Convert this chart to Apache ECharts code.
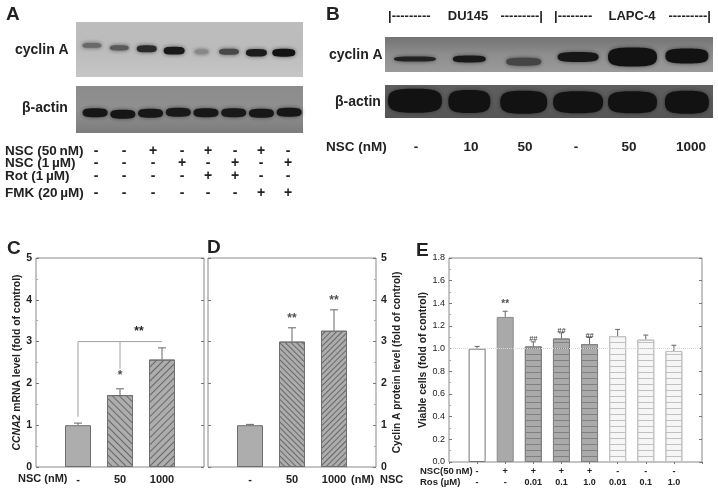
<!DOCTYPE html>
<html><head><meta charset="utf-8">
<style>html,body{margin:0;padding:0;background:#fff}#c{width:718px;height:492px;filter:blur(0.35px)}</style>
<script src="https://cdn.jsdelivr.net/npm/echarts@6/dist/echarts.min.js"></script>
</head><body><div id="c"></div>
<script>
// ---- Blot band readings (relative density by lane)
var aCyclin = [0.38, 0.48, 0.82, 0.95, 0.2, 0.6, 0.92, 1.0];
var aCyclinPos = [0.575, 0.53, 0.515, 0.478, 0.46, 0.46, 0.44, 0.44];
var aActin = [0.97, 0.98, 0.96, 0.95, 0.96, 0.95, 0.96, 0.97];
var aActinPos = [0.43, 0.40, 0.42, 0.44, 0.43, 0.43, 0.42, 0.44];
var bCyclin = [0.88, 0.95, 0.62, 0.97, 1.0, 1.0];
var bCyclinPos = [0.37, 0.37, 0.29, 0.43, 0.43, 0.46];
var bActin = [1.0, 1.0, 1.0, 1.0, 1.0, 1.0];
var bActinPos = [0.52, 0.50, 0.48, 0.48, 0.48, 0.48];
// ---- Treatment tables
var aRowLabels = ['NSC (50\u2009nM)', 'NSC (1\u2009\u00b5M)', 'Rot (1\u2009\u00b5M)', 'FMK (20\u2009\u00b5M)'];
var aRows = [
  ['-','-','+','-','+','-','+','-'],
  ['-','-','-','+','-','+','-','+'],
  ['-','-','-','-','+','+','-','-'],
  ['-','-','-','-','-','-','+','+']
];
var bLabels = ['-', '10', '50', '-', '50', '1000'];
// ---- Panel C
var cCats = ['', '-', '50', '1000', ''];
var cMean = [null, 1.0, 1.72, 2.57, null];
var cErr  = [null, 1.05, 1.87, 2.85, null];
var cStar = [null, null, 2.18, null, null];
// ---- Panel D
var dCats = ['', '-', '50', '1000', ''];
var dMean = [null, 1.0, 3.0, 3.26, null];
var dErr  = [null, 1.02, 3.33, 3.76, null];
var dStar = [null, null, 3.54, 3.97, null];
// ---- Panel E
var eNsc  = ['', '-', '+', '+', '+', '+', '-', '-', '-', ''];
var eRos  = ['', '-', '-', '0.01', '0.1', '1.0', '0.01', '0.1', '1.0', ''];
var eMean = [null, 1.0, 1.28, 1.02, 1.09, 1.04, 1.11, 1.08, 0.98, null];
var eErr  = [null, 1.02, 1.33, 1.06, 1.14, 1.10, 1.17, 1.12, 1.03, null];
var eMark = [null, null, '**', '##', '##', '##', null, null, null, null];
var eMarkAt = [null, null, 1.39, 1.09, 1.16, 1.11, null, null, null, null];

var FF = '"Liberation Sans", Arial, sans-serif';
var DARK = '#222';
var BLOB = 'path://M0,50 C0,8 12,0 50,0 C88,0 100,8 100,50 C100,92 88,100 50,100 C12,100 0,92 0,50Z';
var graphic = [];
function T(x, y, s, size, align, rot, weight) {
  graphic.push({type:'text', x:x, y:y, rotation:rot||0, silent:true,
    style:{text:s, fontFamily:FF, fontWeight:weight||'bold', fontSize:size, fill:DARK,
      textAlign:align||'left', textVerticalAlign:'middle'}});
}
// Panel letters
T(6,15,'A',19); T(326,15,'B',19); T(7,249,'C',19); T(207,248,'D',19); T(416,251,'E',19);
// A
T(15,50,'cyclin A',14); T(22,108,'\u03b2-actin',14);
var aRowY=[151,163,176,193], aColX=[96,124,153,182,208,235,261,288];
aRows.forEach(function(r,i){ T(5,aRowY[i],aRowLabels[i],13.5);
  r.forEach(function(s,j){ T(aColX[j],aRowY[i],s,14,'center'); }); });
// B
T(388,16,'|---------',13); T(468,16,'DU145',13,'center'); T(543,16,'---------|',13,'right');
T(554,16,'|--------',13); T(632,16,'LAPC-4',13,'center'); T(711,16,'---------|',13,'right');
T(329,55,'cyclin A',14); T(335,102,'\u03b2-actin',14);
T(326,147,'NSC (nM)',13.5);
var bColX=[416,471,525,576,629,691];
bLabels.forEach(function(s,j){ T(bColX[j],147,s,13.5,'center'); });
// C, D and E extras
T(18,479,'NSC (nM)',11); T(139,332,'**',12,'center');
T(351,480,'(nM)',11); T(380,480,'NSC',11);
T(420,471,'NSC(50\u2009nM)',9.5); T(420,482,'Ros (\u00b5M)',9.5);

function grad(a,b,c){ return {type:'linear',x:0,y:0,x2:0,y2:1,colorStops:[{offset:0,color:a},{offset:0.5,color:b},{offset:1,color:c}]}; }
var grids=[], xAxes=[], yAxes=[], series=[];
function blot(left,top,width,height,bg,lanes,pos,xmin,xmax,sizes){
  var idx=grids.length;
  grids.push({left:left,top:top,width:width,height:height,show:true,backgroundColor:bg,borderWidth:0,containLabel:false});
  xAxes.push({gridIndex:idx,type:'value',min:xmin,max:xmax,show:false});
  yAxes.push({gridIndex:idx,type:'value',min:0,max:1,show:false});
  series.push({type:'scatter',xAxisIndex:idx,yAxisIndex:idx,silent:true,animation:false,clip:true,symbol:BLOB,
    data:lanes.map(function(v,i){ return [i,pos[i],v,i]; }),
    symbolSize:function(d){ return sizes(d[3],d[2]); },
    itemStyle:{opacity:1,shadowBlur:4,
      color:function(p){ var g=Math.round(180-(180-18)*Math.pow(p.data[2],0.8)); return 'rgb('+g+','+g+','+g+')'; },
      shadowColor:'rgba(30,30,30,0.65)'}});
}
blot(76,22,227,55,grad('#bdbdbd','#bbbbbb','#c6c6c6'),aCyclin,aCyclinPos,-0.58,7.7,
  function(i,v){return [[19,19,20,21,14,20,21,23][i],3+5*v];});
blot(76,86,227,47,grad('#8c8c8c','#909090','#7c7c7c'),aActin,aActinPos,-0.69,7.5,
  function(i,v){return [25,9];});
blot(385,37,328,35,grad('#737373','#8e8e8e','#9a9a9a'),bCyclin,bCyclinPos,-0.55,5.48,
  function(i,v){return [[42,33,35,41,49,43][i],[5,7,8,10,19,15][i]];});
blot(385,85,328,33,grad('#5e5e5e','#5a5a5a','#555555'),bActin,bActinPos,-0.55,5.48,
  function(i,v){return [[54,42,47,50,49,44][i],[24,23,23,22,22,23][i]];});

function hatch(rot,gap){ return {symbol:'rect',symbolSize:1,dashArrayX:[4,0],dashArrayY:[1,gap],rotation:rot,color:'#666'}; }
var lineC='#8a8a8a', tickC='#777';
function panel(o){
  var idx=grids.length;
  grids.push({left:o.left,top:o.top,width:o.width,height:o.height,show:true,backgroundColor:'#fff',borderColor:lineC,borderWidth:1});
  xAxes.push({gridIndex:idx,type:'category',boundaryGap:false,data:o.cats,
    axisLine:{show:false},axisTick:{show:!!o.xTick,alignWithLabel:true,length:2,lineStyle:{color:tickC}},
    axisLabel:{interval:0,margin:o.xMargin,color:DARK,fontFamily:FF,fontWeight:'bold',fontSize:o.xFont,hideOverlap:false}});
  var main=yAxes.length;
  function yAx(pos,labels){
    return {gridIndex:idx,type:'value',min:0,max:o.max,interval:o.step,position:pos,
      splitLine:{show:false},axisLine:{show:false},
      axisTick:{show:true,inside:true,length:3,lineStyle:{color:tickC}},
      minorTick:{show:labels,splitNumber:2,length:2,lineStyle:{color:'#aaa'}},
      axisLabel:{show:labels,inside:false,margin:o.yMargin,color:DARK,fontFamily:FF,fontWeight:o.yWeight,fontSize:o.yFont,
        formatter:function(v){ return o.step<1? v.toFixed(1): String(v); }},
      name:labels?o.name:'',nameLocation:'middle',nameGap:o.nameGap,nameRotate:90,
      nameTextStyle:{color:DARK,fontFamily:FF,fontWeight:'bold',fontSize:o.nameFont,
        rich:{i:{fontStyle:'italic',fontWeight:'bold',fontSize:o.nameFont,fontFamily:FF,color:DARK}}}};
  }
  yAxes.push(yAx(o.labelSide,true));
  yAxes.push(yAx(o.labelSide==='left'?'right':'left',false));
  series.push({type:'bar',xAxisIndex:idx,yAxisIndex:main,silent:true,animation:false,barWidth:o.barW,
    data:o.mean.map(function(v,i){ return v==null?null:{value:v,itemStyle:o.style(i)}; }),
    itemStyle:{borderColor:'#777',borderWidth:1},
    markLine:o.ref?{silent:true,symbol:'none',label:{show:false},animation:false,
      lineStyle:{color:'#d8d8d8',type:'dotted',width:1},data:[{yAxis:o.ref}]}:undefined});
  series.push({type:'custom',xAxisIndex:idx,yAxisIndex:main,silent:true,animation:false,clip:false,
    data:o.err.map(function(e,i){ return e==null?null:[i,o.mean[i],e]; }).filter(Boolean),
    encode:{x:0,y:[1,2]},
    renderItem:function(p,api){
      var a=api.coord([api.value(0),api.value(1)]), b=api.coord([api.value(0),api.value(2)]);
      var st={stroke:'#666',lineWidth:1,fill:null};
      return {type:'group',children:[
        {type:'line',shape:{x1:a[0],y1:a[1],x2:b[0],y2:b[1]},style:st},
        {type:'line',shape:{x1:b[0]-o.cap,y1:b[1],x2:b[0]+o.cap,y2:b[1]},style:st}]};
    }});
  return {idx:idx,main:main};
}
function marks(p,at,text,sizes){
  series.push({type:'scatter',xAxisIndex:p.idx,yAxisIndex:p.main,silent:true,animation:false,symbol:'circle',symbolSize:1,
    itemStyle:{color:'rgba(0,0,0,0)'},
    data:at.map(function(v,i){ return v==null?null:{value:[i,v],
      label:{show:true,position:'inside',color:DARK,fontFamily:FF,fontWeight:'bold',
        fontSize:(Array.isArray(text)&&text[i]==='##')?7.5:sizes,
        formatter:Array.isArray(text)?text[i]:text}}; }).filter(Boolean)});
}
function barFill(rot,gap){ var s={color:'#adadad',borderColor:'#6f6f6f',borderWidth:1}; if(rot!=null) s.decal=hatch(rot,gap); return s; }

var pC=panel({left:36,top:258,width:168,height:209,cats:cCats,mean:cMean,err:cErr,max:5,step:1,barW:26,cap:4,
  xMargin:7,xFont:11,yMargin:4,yFont:10.5,yWeight:'bold',labelSide:'left',
  name:'{i|CCNA2} mRNA level (fold of control)',nameGap:13,nameFont:10.4,
  style:function(i){ return i===1?barFill(null):i===2?barFill(Math.PI/4,4):barFill(-Math.PI/4,4); }});
marks(pC,cStar,'*',12);
series.push({type:'line',xAxisIndex:pC.idx,yAxisIndex:pC.main,silent:true,animation:false,symbol:'none',
  lineStyle:{color:'#a0a0a0',width:1},data:[[1,1.2],[1,3],[3,3]]});
series.push({type:'line',xAxisIndex:pC.idx,yAxisIndex:pC.main,silent:true,animation:false,symbol:'none',
  lineStyle:{color:'#a0a0a0',width:1},data:[[2,3],[2,2.35]]});

var pD=panel({left:208,top:258,width:168,height:209,cats:dCats,mean:dMean,err:dErr,max:5,step:1,barW:26,cap:4,
  xMargin:7,xFont:11,yMargin:5,yFont:10.5,yWeight:'bold',labelSide:'right',
  name:'Cyclin A protein level (fold of control)',nameGap:16,nameFont:10.2,
  style:function(i){ return i===1?barFill(null):i===2?barFill(Math.PI/4,2.6):barFill(-Math.PI/4,2.6); }});
marks(pD,dStar,'**',12);

function hLines(c,line,gap){ return {color:c,borderColor:line,borderWidth:1,
  decal:{symbol:'rect',symbolSize:1,dashArrayX:[4,0],dashArrayY:[1,gap],rotation:0,color:line}}; }
var pE=panel({left:449,top:258,width:253,height:204,cats:eNsc,mean:eMean,err:eErr,max:1.8,step:0.2,barW:17,cap:2.5,
  xMargin:5,xFont:9,xTick:true,yMargin:4,yFont:9,yWeight:'normal',labelSide:'left',
  name:'Viable cells (fold of control)',nameGap:20,nameFont:10.4,ref:1,
  style:function(i){
    if(i===1) return {color:'#fff',borderColor:'#777',borderWidth:1};
    if(i===2) return {color:'#a9a9a9',borderColor:'#8a8a8a',borderWidth:1};
    if(i>=3&&i<=5) return hLines('#aaaaaa','#808080',5);
    return hLines('#f6f6f6','#c0c0c0',5);
  }});
marks(pE,eMarkAt,eMark,10);
xAxes.push({gridIndex:pE.idx,type:'category',boundaryGap:false,data:eRos,position:'bottom',offset:11,
  axisLine:{show:false},axisTick:{show:false},
  axisLabel:{interval:0,margin:5,color:DARK,fontFamily:FF,fontWeight:'bold',fontSize:9}});

var chart=echarts.init(document.getElementById('c'),null,{renderer:'canvas',width:718,height:492});
chart.setOption({animation:false,backgroundColor:'#fff',grid:grids,xAxis:xAxes,yAxis:yAxes,series:series,graphic:graphic});
</script></body></html>
